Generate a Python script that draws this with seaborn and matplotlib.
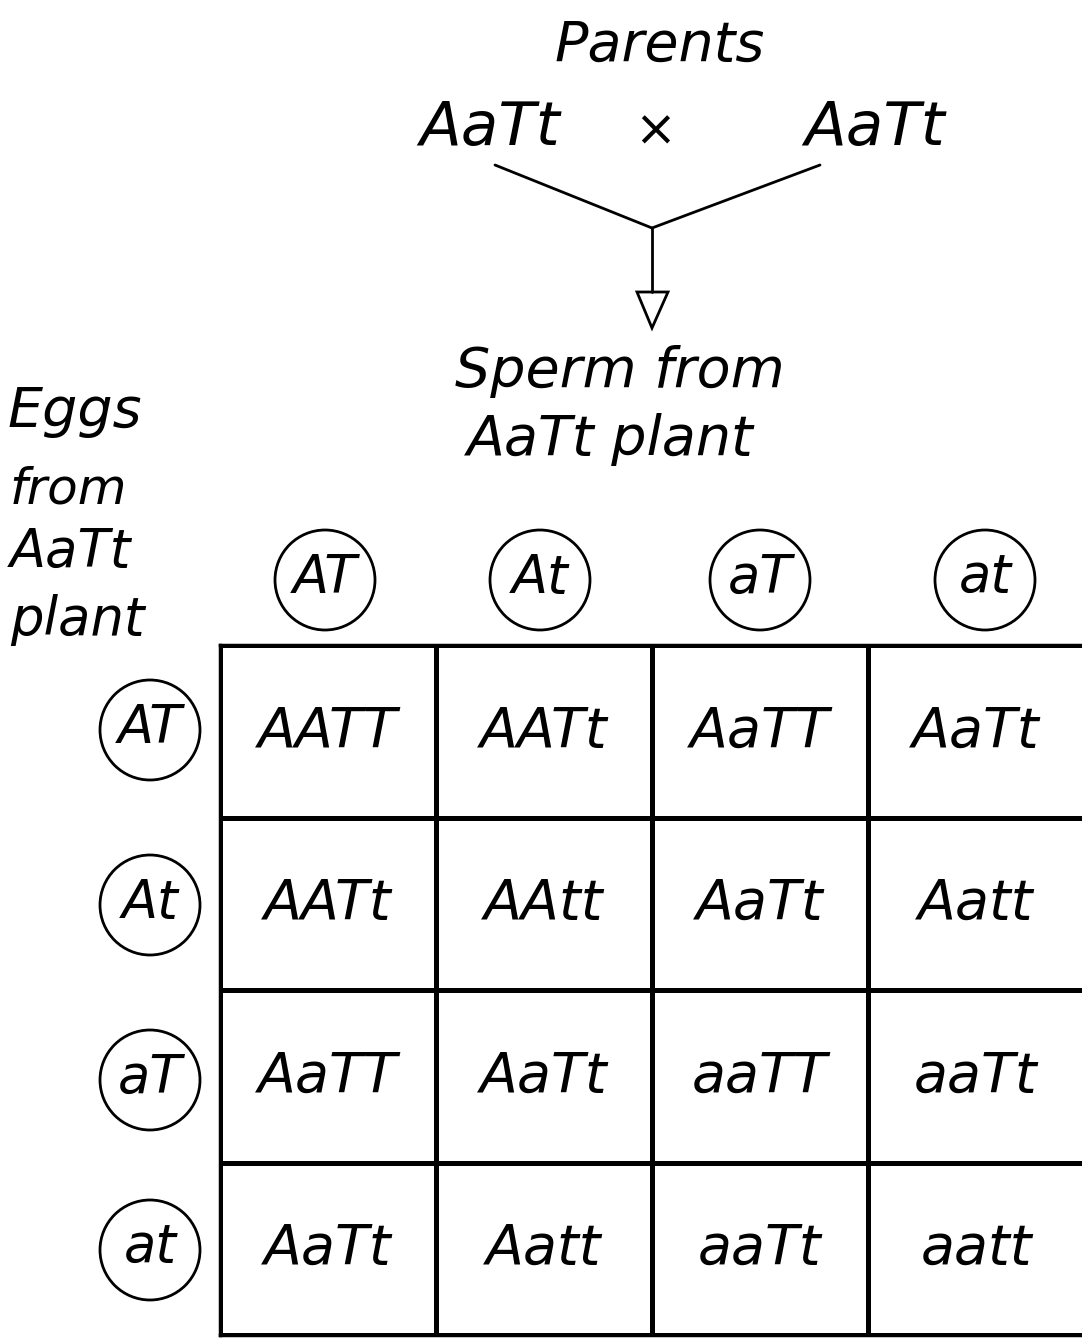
import matplotlib
matplotlib.use("Agg")
import matplotlib.pyplot as plt
import numpy as np
import pandas as pd
import seaborn as sns
from matplotlib.patches import Circle, Polygon

sns.set_theme(style="white")
plt.rcParams['font.family'] = ['DejaVu Sans']

# data
parents = ["AaTt", "AaTt"]
sperm_gametes = ["AT", "At", "aT", "at"]
egg_gametes = ["AT", "At", "aT", "at"]
offspring = [
    ["AATT", "AATt", "AaTT", "AaTt"],
    ["AATt", "AAtt", "AaTt", "Aatt"],
    ["AaTT", "AaTt", "aaTT", "aaTt"],
    ["AaTt", "Aatt", "aaTt", "aatt"],
]

W, H = 1082, 1343
fig = plt.figure(figsize=(W / 100, H / 100), dpi=100)
fig.patch.set_facecolor("white")

# the Punnett grid as a heatmap with white cells and black lines
gx0, gx1, gy0, gy1 = 220, 1084, 645, 1335
ax = fig.add_axes([gx0 / W, 1 - gy1 / H, (gx1 - gx0) / W, (gy1 - gy0) / H])
grid = pd.DataFrame(np.zeros((4, 4)), index=egg_gametes, columns=sperm_gametes)
sns.heatmap(grid, ax=ax, cmap=["white"], cbar=False, linewidths=2.5, linecolor="black",
            annot=np.array(offspring), fmt="", xticklabels=False, yticklabels=False,
            annot_kws={"fontsize": 40, "color": "black", "style": "italic", "fontweight": "light"})
for s in ax.spines.values():
    s.set_visible(True)
    s.set_color("black")
    s.set_linewidth(2.5)

# overlay in pixel coordinates for the hand-drawn parts
ov = fig.add_axes([0, 0, 1, 1])
ov.set_xlim(0, W)
ov.set_ylim(H, 0)
ov.axis("off")
ov.patch.set_alpha(0)

txt = dict(color="black", style="italic", fontweight="light", ha="center", va="center")
ov.text(660, 45, "Parents", fontsize=40, **txt)
ov.text(490, 128, parents[0], fontsize=44, **txt)
ov.text(655, 132, "×", fontsize=36, **txt)
ov.text(875, 128, parents[1], fontsize=44, **txt)

# cross lines and arrow
ov.plot([495, 652], [165, 228], color="black", lw=2)
ov.plot([820, 652], [165, 228], color="black", lw=2)
ov.plot([652, 652], [228, 292], color="black", lw=2)
ov.add_patch(Polygon([[637, 292], [668, 292], [652, 328]], closed=True,
                     fill=False, edgecolor="black", lw=2))

ov.text(620, 372, "Sperm from", fontsize=40, **txt)
ov.text(610, 440, parents[1] + " plant", fontsize=40, **txt)

left = dict(color="black", style="italic", fontweight="light", ha="left", va="center")
ov.text(8, 412, "Eggs", fontsize=40, **left)
ov.text(10, 490, "from", fontsize=36, **left)
ov.text(10, 552, parents[0], fontsize=38, **left)
ov.text(10, 620, "plant", fontsize=38, **left)

# gamete circles
col_x = [325, 540, 760, 985]
for x, g in zip(col_x, sperm_gametes):
    ov.add_patch(Circle((x, 580), 50, fill=False, edgecolor="black", lw=2))
    ov.text(x, 578, g, fontsize=38, **txt)
row_y = [730, 905, 1080, 1250]
for y, g in zip(row_y, egg_gametes):
    ov.add_patch(Circle((150, y), 50, fill=False, edgecolor="black", lw=2))
    ov.text(150, y - 2, g, fontsize=38, **txt)

fig.savefig("out.png", dpi=100, facecolor="white")
